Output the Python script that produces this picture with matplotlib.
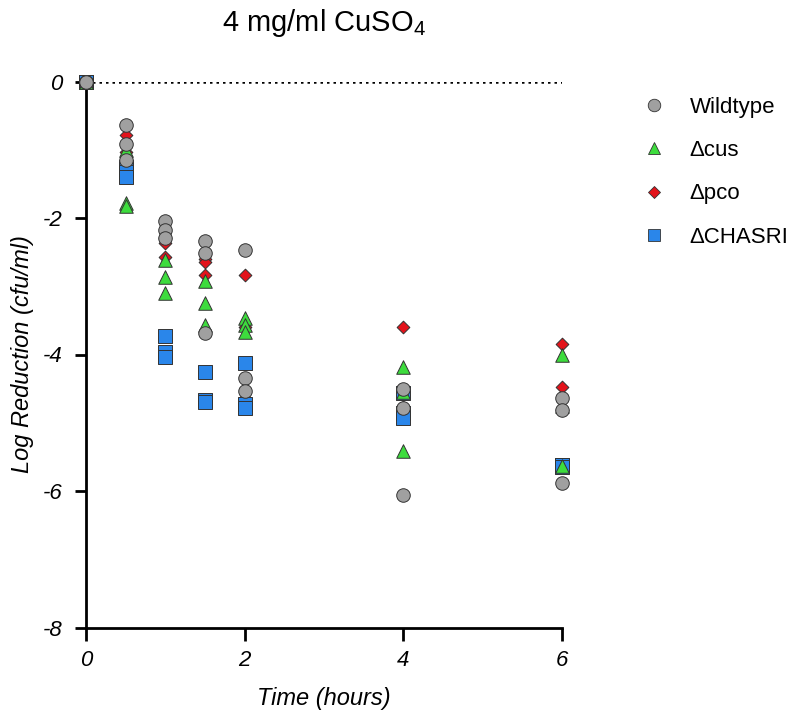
import numpy as np
import matplotlib
matplotlib.use("Agg")
import matplotlib.pyplot as plt
from matplotlib.lines import Line2D

plt.rcParams['font.family'] = ['Liberation Sans', 'DejaVu Sans']
plt.rcParams['mathtext.fontset'] = 'custom'
plt.rcParams['mathtext.rm'] = 'Liberation Sans'

# sampling times (hours), three replicates at each
times = [0, 0.5, 1, 1.5, 2, 4, 6]

wildtype = [[0, 0, 0], [-0.64, -0.92, -1.15], [-2.05, -2.18, -2.30], [-2.34, -2.52, -3.69],
            [-2.47, -4.35, -4.53], [-4.50, -4.79, -6.06], [-4.64, -4.81, -5.88]]
d_cus = [[0, 0, 0], [-1.00, -1.78, -1.82], [-2.62, -2.86, -3.10], [-2.93, -3.24, -3.57],
         [-3.47, -3.57, -3.67], [-4.18, -4.55, -5.42], [-4.01, -4.75, -5.64]]
d_pco = [[0, 0, 0], [-0.78, -1.04, -1.10], [-2.30, -2.37, -2.57], [-2.60, -2.64, -2.84],
         [-2.84, -3.60, -4.64], [-3.60, -4.60, -4.80], [-3.84, -4.48, -4.81]]
d_chasri = [[0, 0, 0], [-1.25, -1.33, -1.40], [-3.73, -3.96, -4.03], [-4.25, -4.66, -4.70],
            [-4.13, -4.72, -4.79], [-4.57, -4.85, -4.93], [-5.62, -5.62, -5.65]]

labels = ["Wildtype", "\u0394cus", "\u0394pco", "\u0394CHASRI"]

fig = plt.figure(figsize=(8.01, 7.13), dpi=100)
ax = fig.add_axes([86 / 801, 1 - 627.5 / 713, 476 / 801, 546 / 713])

styles = {
    "Wildtype": dict(marker="o", s=95, color="#a0a0a0"),
    "\u0394cus": dict(marker="^", s=95, color="#3ddc3d"),
    "\u0394pco": dict(marker="D", s=42, color="#e3131b"),
    "\u0394CHASRI": dict(marker="s", s=100, color="#2a86ea"),
}
series = {"Wildtype": wildtype, "\u0394cus": d_cus, "\u0394pco": d_pco, "\u0394CHASRI": d_chasri}
zorders = {"\u0394pco": 3, "\u0394CHASRI": 4, "\u0394cus": 5, "Wildtype": 6}

ax.plot([0, 6], [0, 0], color="black", linestyle=(0, (1, 1.6)), linewidth=1.8, zorder=1)

for name in labels:
    vals = np.array(series[name])
    xs = np.repeat(times, vals.shape[1])
    st = styles[name]
    ax.scatter(xs, vals.ravel(), marker=st["marker"], s=st["s"], c=st["color"],
               edgecolors="#333333", linewidths=0.7, zorder=zorders[name], clip_on=False)

ax.set_xlim(0, 6)
ax.set_ylim(-8, 0)
ax.set_xticks([0, 2, 4, 6])
ax.set_yticks([0, -2, -4, -6, -8])
ax.set_yticklabels(["0", "-2", "-4", "-6", "-8"])
for sp in ["top", "right"]:
    ax.spines[sp].set_visible(False)
for sp in ["left", "bottom"]:
    ax.spines[sp].set_linewidth(2)
ax.tick_params(width=2, labelsize=16)
ax.tick_params(axis="x", length=9, pad=7)
ax.tick_params(axis="y", length=8, pad=9)
for lab in ax.get_xticklabels() + ax.get_yticklabels():
    lab.set_fontstyle("italic")

ax.set_xlabel("Time (hours)", fontsize=17, fontstyle="italic", labelpad=12)
ax.set_ylabel("Log Reduction (cfu/ml)", fontsize=17, fontstyle="italic", labelpad=6)

fig.text(324 / 801, 1 - 23 / 713, "4 mg/ml CuSO$_\\mathregular{4}$", fontsize=21,
         ha="center", va="center")

handles = [Line2D([], [], linestyle="none", marker=styles[n]["marker"],
                  markersize=9 if n != "\u0394pco" else 6.5,
                  markerfacecolor=styles[n]["color"], markeredgecolor="#333333",
                  markeredgewidth=0.6) for n in labels]
fig.legend(handles, labels, loc="upper left", bbox_to_anchor=(612 / 801, 1 - 77 / 713),
           frameon=False, fontsize=16, labelspacing=1.0, handletextpad=0.6)

fig.savefig("out.png", dpi=100)
